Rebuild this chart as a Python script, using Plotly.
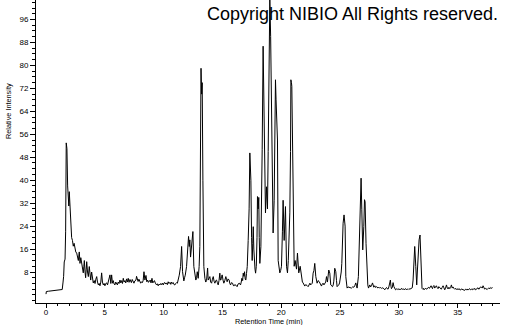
import plotly.graph_objects as go

retention_time = [
    0.00, 0.03, 0.20, 0.40, 0.60, 0.80, 1.00, 1.20, 1.38, 1.45, 1.50, 1.55, 1.62, 1.67, 1.72, 1.78,
    1.84, 1.90, 1.94, 1.98, 2.02, 2.07, 2.12, 2.18, 2.25, 2.32, 2.39, 2.46, 2.53, 2.61, 2.68, 2.75,
    2.83, 2.89, 2.96, 3.03, 3.10, 3.17, 3.22, 3.26, 3.32, 3.37, 3.42, 3.46, 3.53, 3.60, 3.68, 3.74,
    3.80, 3.88, 3.95, 4.02, 4.10, 4.17, 4.24, 4.31, 4.38, 4.45, 4.52, 4.59, 4.66, 4.73, 4.80, 4.87,
    4.94, 5.01, 5.08, 5.16, 5.23, 5.30, 5.37, 5.44, 5.51, 5.58, 5.65, 5.72, 5.79, 5.86, 5.93, 6.00,
    6.07, 6.14, 6.21, 6.29, 6.36, 6.43, 6.50, 6.57, 6.64, 6.71, 6.78, 6.85, 6.92, 6.99, 7.06, 7.14,
    7.20, 7.26, 7.33, 7.40, 7.48, 7.55, 7.65, 7.70, 7.76, 7.83, 7.90, 7.97, 8.05, 8.12, 8.19, 8.26,
    8.33, 8.41, 8.50, 8.57, 8.64, 8.71, 8.79, 8.86, 8.93, 9.01, 9.08, 9.15, 9.22, 9.30, 9.40, 9.47,
    9.54, 9.62, 9.69, 9.76, 9.83, 9.90, 9.97, 10.04, 10.11, 10.18, 10.25, 10.32, 10.39, 10.46, 10.54, 10.61,
    10.68, 10.75, 10.82, 10.89, 10.96, 11.03, 11.10, 11.17, 11.24, 11.33, 11.44, 11.53, 11.61, 11.72, 11.78, 11.84,
    11.95, 12.06, 12.12, 12.18, 12.23, 12.29, 12.35, 12.43, 12.49, 12.57, 12.66, 12.74, 12.80, 12.86, 12.94, 13.02,
    13.08, 13.13, 13.18, 13.23, 13.28, 13.34, 13.42, 13.51, 13.58, 13.65, 13.74, 13.79, 13.86, 13.93, 14.00, 14.08,
    14.15, 14.22, 14.29, 14.36, 14.43, 14.50, 14.57, 14.64, 14.71, 14.78, 14.83, 14.87, 14.93, 14.98, 15.05, 15.12,
    15.20, 15.29, 15.35, 15.40, 15.48, 15.57, 15.63, 15.69, 15.77, 15.86, 15.92, 15.97, 16.05, 16.14, 16.20, 16.25,
    16.33, 16.43, 16.48, 16.54, 16.60, 16.65, 16.72, 16.77, 16.83, 16.88, 16.94, 16.99, 17.05, 17.11, 17.19, 17.27,
    17.33, 17.38, 17.42, 17.48, 17.53, 17.58, 17.62, 17.67, 17.71, 17.77, 17.82, 17.88, 17.94, 17.98, 18.04, 18.09,
    18.13, 18.18, 18.27, 18.33, 18.38, 18.46, 18.51, 18.55, 18.60, 18.66, 18.75, 18.83, 18.89, 18.95, 19.03, 19.10,
    19.14, 19.23, 19.31, 19.40, 19.47, 19.51, 19.56, 19.60, 19.68, 19.74, 19.81, 19.88, 19.95, 20.02, 20.10, 20.16,
    20.25, 20.36, 20.45, 20.53, 20.60, 20.65, 20.73, 20.79, 20.82, 20.87, 20.90, 20.95, 21.01, 21.10, 21.18, 21.30,
    21.38, 21.49, 21.61, 21.72, 21.80, 21.86, 21.93, 22.00, 22.08, 22.15, 22.22, 22.29, 22.36, 22.44, 22.50, 22.57,
    22.64, 22.71, 22.78, 22.85, 22.94, 23.05, 23.13, 23.22, 23.30, 23.42, 23.49, 23.56, 23.63, 23.70, 23.78, 23.85,
    23.93, 24.04, 24.13, 24.21, 24.29, 24.36, 24.42, 24.47, 24.55, 24.64, 24.70, 24.75, 24.82, 24.89, 24.96, 25.04,
    25.10, 25.15, 25.21, 25.26, 25.34, 25.43, 25.49, 25.55, 25.60, 25.68, 25.77, 25.87, 25.97, 26.07, 26.17, 26.25,
    26.34, 26.40, 26.45, 26.56, 26.65, 26.73, 26.79, 26.85, 26.93, 27.02, 27.08, 27.13, 27.21, 27.30, 27.36, 27.42,
    27.48, 27.53, 27.60, 27.67, 27.76, 27.82, 27.87, 27.95, 28.03, 28.10, 28.17, 28.23, 28.30, 28.37, 28.45, 28.52,
    28.59, 28.66, 28.73, 28.80, 28.87, 28.95, 29.02, 29.08, 29.15, 29.23, 29.28, 29.33, 29.37, 29.44, 29.51, 29.58,
    29.65, 29.72, 29.80, 29.87, 29.94, 30.01, 30.08, 30.15, 30.22, 30.29, 30.36, 30.44, 30.51, 30.58, 30.65, 30.72,
    30.79, 30.86, 30.93, 31.00, 31.07, 31.14, 31.21, 31.29, 31.35, 31.44, 31.52, 31.57, 31.63, 31.72, 31.80, 31.85,
    31.89, 31.97, 32.04, 32.10, 32.14, 32.21, 32.28, 32.35, 32.42, 32.48, 32.54, 32.60, 32.67, 32.74, 32.80, 32.86,
    32.91, 32.98, 33.05, 33.12, 33.19, 33.26, 33.33, 33.40, 33.47, 33.54, 33.61, 33.68, 33.76, 33.83, 33.90, 33.97,
    34.05, 34.12, 34.19, 34.26, 34.33, 34.40, 34.47, 34.54, 34.61, 34.68, 34.75, 34.82, 34.89, 34.96, 35.03, 35.10,
    35.17, 35.24, 35.31, 35.38, 35.45, 35.52, 35.60, 35.67, 35.74, 35.81, 35.88, 35.95, 36.02, 36.09, 36.17, 36.24,
    36.31, 36.38, 36.45, 36.52, 36.59, 36.66, 36.73, 36.80, 36.87, 36.94, 37.02, 37.09, 37.16, 37.23, 37.30, 37.37,
    37.44, 37.51, 37.58, 37.65, 37.72, 37.81, 37.90, 37.96,
]

relative_intensity = [
    0.3, 1.2, 1.3, 1.4, 1.5, 1.5, 1.6, 1.7, 1.9, 4.5, 6.5, 11.5, 12.5, 22, 53, 51,
    38, 35, 31, 36, 33, 26, 24, 20, 19, 17, 18, 16.4, 15, 14.6, 13, 12,
    15, 11, 13, 11.5, 9, 7.7, 10, 12, 8, 6, 9, 11.6, 8, 6.4, 9.9, 6,
    5.2, 8, 5, 4.2, 5, 4, 5.5, 6.4, 4.5, 3.5, 4, 3.2, 4.5, 7.7, 4.5, 3.5,
    4, 3.2, 4, 4.2, 3.5, 4.8, 6, 7, 4, 7, 4.1, 5, 3.8, 3.5, 4.5, 3.8,
    3.5, 4.5, 4, 5.2, 4.2, 5, 4, 5.8, 4.5, 5, 4.2, 5.6, 4.5, 5.8, 4.4, 5.4,
    4.6, 4.3, 5.4, 4.5, 4.1, 4.9, 5.2, 6.5, 5.8, 4.7, 5.5, 4.6, 4.1, 4.6, 4.3, 5,
    8.1, 5.2, 6.8, 4.6, 5.2, 4.4, 5, 5.2, 4.2, 5.8, 4.2, 4.6, 5, 4.1, 3.5, 3.9,
    3.2, 3.8, 3.5, 4, 3.6, 4.1, 3.5, 4.2, 4.3, 3.8, 4.2, 3.6, 4.6, 4, 4.4, 3.7,
    4.5, 4, 4.3, 3.6, 3.5, 4, 4.3, 4.1, 5.2, 6.9, 9.9, 16.9, 8.1, 4.9, 6, 6.9,
    9.9, 15.7, 20.4, 16.9, 19.2, 13.2, 15.7, 21.5, 22.1, 9.9, 6.9, 5.2, 6, 8.1, 5.8, 9.9,
    16.9, 45, 79, 70, 74, 40, 9.9, 5.8, 4.5, 5, 9.4, 5.2, 6, 6.4, 4.5, 4.1,
    5.5, 6.4, 4.8, 4.1, 5, 5.2, 4.3, 3.5, 5, 7.6, 5.2, 5.2, 6.5, 7.0, 5.2, 4.1,
    5, 6.4, 5.4, 4.6, 5.6, 5.2, 4, 3.5, 4.3, 4.1, 3.4, 3.1, 3.6, 3.5, 3.2, 2.9,
    3.8, 4.1, 3.6, 3.5, 4.5, 5.8, 5, 7.6, 6.5, 8.1, 5.5, 5.2, 7.5, 9.9, 19, 30,
    49.5, 44, 40, 20, 12, 18, 23.8, 16, 10, 9, 7.6, 10, 20, 34.3, 30, 34,
    20, 11, 16.8, 30, 50.6, 86.7, 70, 56, 40, 28.6, 37.7, 30, 50, 82, 103, 90,
    80, 56, 21.6, 33, 60, 75, 68, 64.6, 54, 12, 9, 7.7, 8.5, 10, 22, 33,
    19, 30.8, 10, 7.7, 12, 18, 28.6, 50, 75, 74, 72.7, 50, 28.6, 10, 12, 9,
    14.6, 7.7, 10, 5.2, 4.5, 4.2, 3.5, 3.1, 3.6, 3.5, 3.2, 2.9, 3.4, 4.1, 3.5, 3.8,
    4.1, 7.6, 8.5, 11, 6.4, 4.1, 5, 4.7, 3.8, 3.1, 3.8, 4.1, 3.5, 3.8, 4.5, 6.4,
    4.5, 8.7, 7.6, 3.5, 3.1, 2.9, 3.5, 4.8, 9.3, 8.1, 5, 2.9, 3.2, 3.5, 4.2, 5.9,
    8, 11, 20, 25, 27.9, 24, 6.4, 3.5, 2.4, 2.8, 2.7, 2.5, 2.4, 2.8, 2.7, 3.2,
    4.2, 3.2, 2.4, 6.4, 21.6, 37.8, 40.7, 29.7, 15.7, 23.8, 33.2, 32.5, 18, 6.4, 3.5, 2.4,
    3, 3.5, 2.8, 3.2, 4.2, 3.2, 2.7, 3.2, 2.6, 2.9, 2.5, 2.4, 2.7, 2.4, 2.6, 2.3,
    2.5, 2.4, 2.2, 1.8, 2.1, 2.6, 2.2, 2.0, 2.8, 4.1, 5.2, 3.0, 2.2, 2.6, 4.3, 2.9,
    2.2, 1.8, 2.1, 1.9, 2.2, 1.8, 2.0, 1.9, 2.3, 1.9, 2.2, 1.8, 2.0, 2.2, 1.8, 2.1,
    1.9, 2.2, 2.0, 2.1, 2.2, 2.5, 5.2, 14, 16.9, 9.9, 3.5, 8, 14.6, 19.2, 20.9, 16,
    11, 2.3, 2.0, 2.3, 1.8, 2.2, 2.4, 2.0, 2.3, 2.8, 2.7, 2.3, 2.8, 3.2, 2.6, 2.2,
    2.9, 3.3, 2.4, 2.7, 3.2, 2.6, 2.2, 2.9, 2.7, 2.2, 2.0, 2.6, 3.2, 2.5, 1.8, 2.4,
    3.5, 2.4, 2.1, 2.7, 2.2, 2.6, 3.5, 2.4, 2.8, 2.3, 2.0, 2.3, 1.9, 2.2, 1.8, 2.2,
    2.0, 1.7, 2.1, 1.9, 2.0, 1.7, 1.6, 2.0, 1.8, 2.1, 1.7, 2.0, 2.2, 1.8, 2.0, 1.8,
    2.2, 1.9, 2.3, 1.8, 2.0, 2.2, 2.5, 2.0, 2.3, 2.8, 2.7, 2.4, 3.2, 2.2, 2.0, 2.3,
    2.0, 1.9, 2.2, 2.5, 2.1, 2.6, 2.3, 2.6,
]

x_tick_values = [0, 5, 10, 15, 20, 25, 30, 35]
y_tick_values = [8, 16, 24, 32, 40, 48, 56, 64, 72, 80, 88, 96]

FONT = "Liberation Sans, Arial, sans-serif"

fig = go.Figure()
fig.add_trace(go.Scatter(
    x=retention_time, y=relative_intensity, mode="lines",
    line=dict(color="black", width=1), hoverinfo="skip", showlegend=False,
))

L, R, T, B = 36, 5, 0, 22
W, H = 505, 325
pw, ph = W - L - R, H - T - B

def px(x):
    return (x - L) / pw

def py(y):
    return (H - B - y) / ph

fig.update_layout(
    width=W, height=H,
    margin=dict(l=L, r=R, t=T, b=B, pad=0),
    paper_bgcolor="white", plot_bgcolor="white",
    font=dict(family=FONT, size=8, color="black"),
    xaxis=dict(
        range=[-0.85, 38.6], showgrid=False, zeroline=False,
        showline=True, linecolor="black", linewidth=1,
        tickmode="array", tickvals=x_tick_values,
        ticks="outside", ticklen=4, tickwidth=1, tickcolor="black",
        ticklabelstandoff=-3,
        tickfont=dict(size=8, family=FONT, color="black"),
        minor=dict(tickmode="linear", tick0=0, dtick=1, ticks="outside",
                   ticklen=2, tickwidth=1, tickcolor="black", showgrid=False),
    ),
    yaxis=dict(
        range=[-2.8, 102.8], showgrid=False, zeroline=False,
        showline=True, linecolor="black", linewidth=1,
        tickmode="array", tickvals=y_tick_values,
        ticks="outside", ticklen=5, tickwidth=1, tickcolor="black",
        tickfont=dict(size=8, family=FONT, color="black"),
        minor=dict(tickmode="linear", tick0=0, dtick=2, ticks="outside",
                   ticklen=3, tickwidth=1, tickcolor="black", showgrid=False),
    ),
    annotations=[
        dict(text="Copyright NIBIO All Rights reserved.", xref="paper", yref="paper",
             x=px(500), y=py(13.5), xanchor="right", yanchor="middle", showarrow=False,
             font=dict(size=18, family=FONT, color="black")),
        dict(text="Relative Intensity", xref="paper", yref="paper",
             x=px(8), y=py(111), xanchor="center", yanchor="middle", textangle=-90,
             showarrow=False, font=dict(size=7.3, family=FONT, color="black")),
        dict(text="Retention Time (min)", xref="paper", yref="paper",
             x=px(269), y=py(321.5), xanchor="center", yanchor="middle",
             showarrow=False, font=dict(size=7.3, family=FONT, color="black")),
    ],
)

fig.write_html("out.html")
